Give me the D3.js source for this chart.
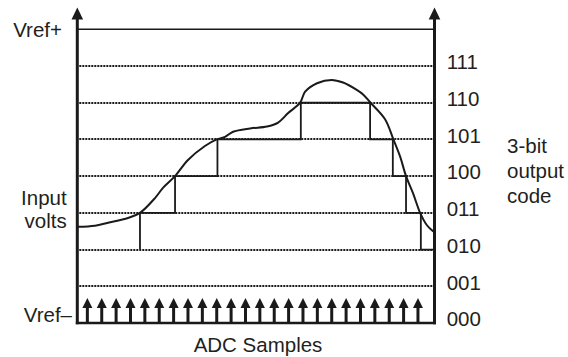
<!DOCTYPE html>
<html>
<head>
<meta charset="utf-8">
<script src="https://cdn.jsdelivr.net/npm/d3@7"></script>
<style>
  html, body { margin: 0; padding: 0; background: #fff; }
  svg { display: block; }
  text { font-family: "Liberation Sans", Arial, Helvetica, sans-serif; fill: #231f20; }
</style>
</head>
<body>
<svg id="chart" width="568" height="357"></svg>
<script>
// 3-bit output codes, one per quantisation level (level 8 is Vref+)
const codeLabels = ["000", "001", "010", "011", "100", "101", "110", "111"];

// Analog input: time in sample periods, amplitude in LSB levels
const inputTime  = [0, 1.23, 2.14, 3.53, 4.36, 5.42, 5.96, 6.80, 7.70, 8.88, 9.70, 10.28, 10.84, 12.02, 13.20, 13.97, 14.67, 15.50, 15.85, 16.68, 17.70, 18.49, 19.44, 19.90, 20.40, 21.41, 21.99, 22.46, 22.87, 23.36, 23.85, 24.31, 24.77];
const inputLevel = [2.62, 2.65, 2.73, 2.86, 3.00, 3.41, 3.68, 4.00, 4.44, 4.82, 5.00, 5.07, 5.21, 5.30, 5.35, 5.46, 5.72, 6.00, 6.30, 6.53, 6.62, 6.55, 6.35, 6.22, 6.00, 5.55, 5.00, 4.53, 4.00, 3.53, 3.00, 2.67, 2.49];

// Quantised output: code held from each transition time to the next
const stepTime = [4.36, 6.80, 9.75, 15.55, 20.37, 21.95, 22.87, 23.90];
const stepCode = [2, 3, 4, 5, 6, 5, 4, 3, 2];

// ADC sampling instants (sample periods)
const sampleTimes = [0.7, 1.7, 2.7, 3.7, 4.7, 5.7, 6.7, 7.7, 8.7, 9.7, 10.7, 11.7, 12.7, 13.7, 14.7, 15.7, 16.7, 17.7, 18.7, 19.7, 20.7, 21.7, 22.7, 23.7];
const windowLength = 24.85;

const svg = d3.select("#chart");
const ink = "#1a1a1a";

const plotLeft = 77.3, plotRight = 434.5, plotTop = 29.3, plotBottom = 323;
const x = d3.scaleLinear().domain([0, windowLength]).range([plotLeft, plotRight]);
const y = d3.scaleLinear().domain([0, 8]).range([plotBottom, plotTop]);

// Threshold grid lines (dotted) for codes 001..111
svg.append("g").selectAll("line")
  .data(d3.range(1, codeLabels.length))
  .join("line")
  .attr("x1", plotLeft + 2).attr("x2", plotRight - 2)
  .attr("y1", d => Math.round(y(d))).attr("y2", d => Math.round(y(d)))
  .attr("stroke", ink).attr("stroke-width", 2)
  .attr("stroke-dasharray", "2 1");

// Vref+ full-scale line
svg.append("line")
  .attr("x1", plotLeft).attr("x2", plotRight)
  .attr("y1", y(8)).attr("y2", y(8))
  .attr("stroke", ink).attr("stroke-width", 1.6);

// Quantised staircase
const stepPts = [[stepTime[0], stepCode[0]]];
stepTime.forEach((t, i) => {
  stepPts.push([t, stepCode[i]]);
  stepPts.push([t, stepCode[i + 1]]);
});
stepPts.push([windowLength, stepCode[stepCode.length - 1]]);
svg.append("path")
  .attr("d", d3.line().x(d => x(d[0])).y(d => y(d[1]))(stepPts))
  .attr("fill", "none").attr("stroke", ink).attr("stroke-width", 1.8);

// Analog input curve
svg.append("path")
  .datum(inputTime.map((t, i) => [t, inputLevel[i]]))
  .attr("d", d3.line().x(d => x(d[0])).y(d => y(d[1])).curve(d3.curveCatmullRom.alpha(0.5)))
  .attr("fill", "none").attr("stroke", ink).attr("stroke-width", 2);

// Sample clock arrows along the baseline
const arrowTip = plotBottom - 25, headH = 10, headW = 10;
const samples = svg.append("g").selectAll("g").data(sampleTimes).join("g");
samples.append("line")
  .attr("x1", d => x(d)).attr("x2", d => x(d))
  .attr("y1", plotBottom).attr("y2", arrowTip + headH - 1)
  .attr("stroke", ink).attr("stroke-width", 3);
samples.append("path")
  .attr("d", d => `M${x(d)},${arrowTip}L${x(d) + headW / 2},${arrowTip + headH}L${x(d) - headW / 2},${arrowTip + headH}Z`)
  .attr("fill", ink);

// Baseline (Vref-)
svg.append("line")
  .attr("x1", plotLeft - 1.5).attr("x2", plotRight + 1.5)
  .attr("y1", plotBottom).attr("y2", plotBottom)
  .attr("stroke", ink).attr("stroke-width", 2.7);

// Vertical axes with arrowheads
[plotLeft, plotRight].forEach(ax => {
  svg.append("line")
    .attr("x1", ax).attr("x2", ax)
    .attr("y1", plotBottom + 1.3).attr("y2", 18)
    .attr("stroke", ink).attr("stroke-width", 3);
  svg.append("path")
    .attr("d", `M${ax},7.5L${ax + 5.8},19.5L${ax - 5.8},19.5Z`)
    .attr("fill", ink);
});

// Text
const fs = 20.5;
svg.append("text").attr("x", 62).attr("y", 36.7).attr("text-anchor", "end")
  .attr("font-size", fs).text("Vref+");
svg.append("text").attr("x", 72).attr("y", 321.7).attr("text-anchor", "end")
  .attr("font-size", fs).text("Vref\u2013");
svg.append("text").attr("x", 66.7).attr("y", 205).attr("text-anchor", "end")
  .attr("font-size", fs).text("Input");
svg.append("text").attr("x", 66.7).attr("y", 228.3).attr("text-anchor", "end")
  .attr("font-size", fs).text("volts");

svg.append("g").selectAll("text")
  .data(codeLabels)
  .join("text")
  .attr("x", 446.7)
  .attr("y", (d, i) => y(i) + 3.3)
  .attr("font-size", fs)
  .text(d => d);

["3-bit", "output", "code"].forEach((s, i) => {
  svg.append("text").attr("x", 507).attr("y", 152.7 + i * 25.2)
    .attr("font-size", fs).text(s);
});

svg.append("text").attr("x", 258).attr("y", 351.7).attr("text-anchor", "middle")
  .attr("font-size", fs).text("ADC Samples");
</script>
</body>
</html>
